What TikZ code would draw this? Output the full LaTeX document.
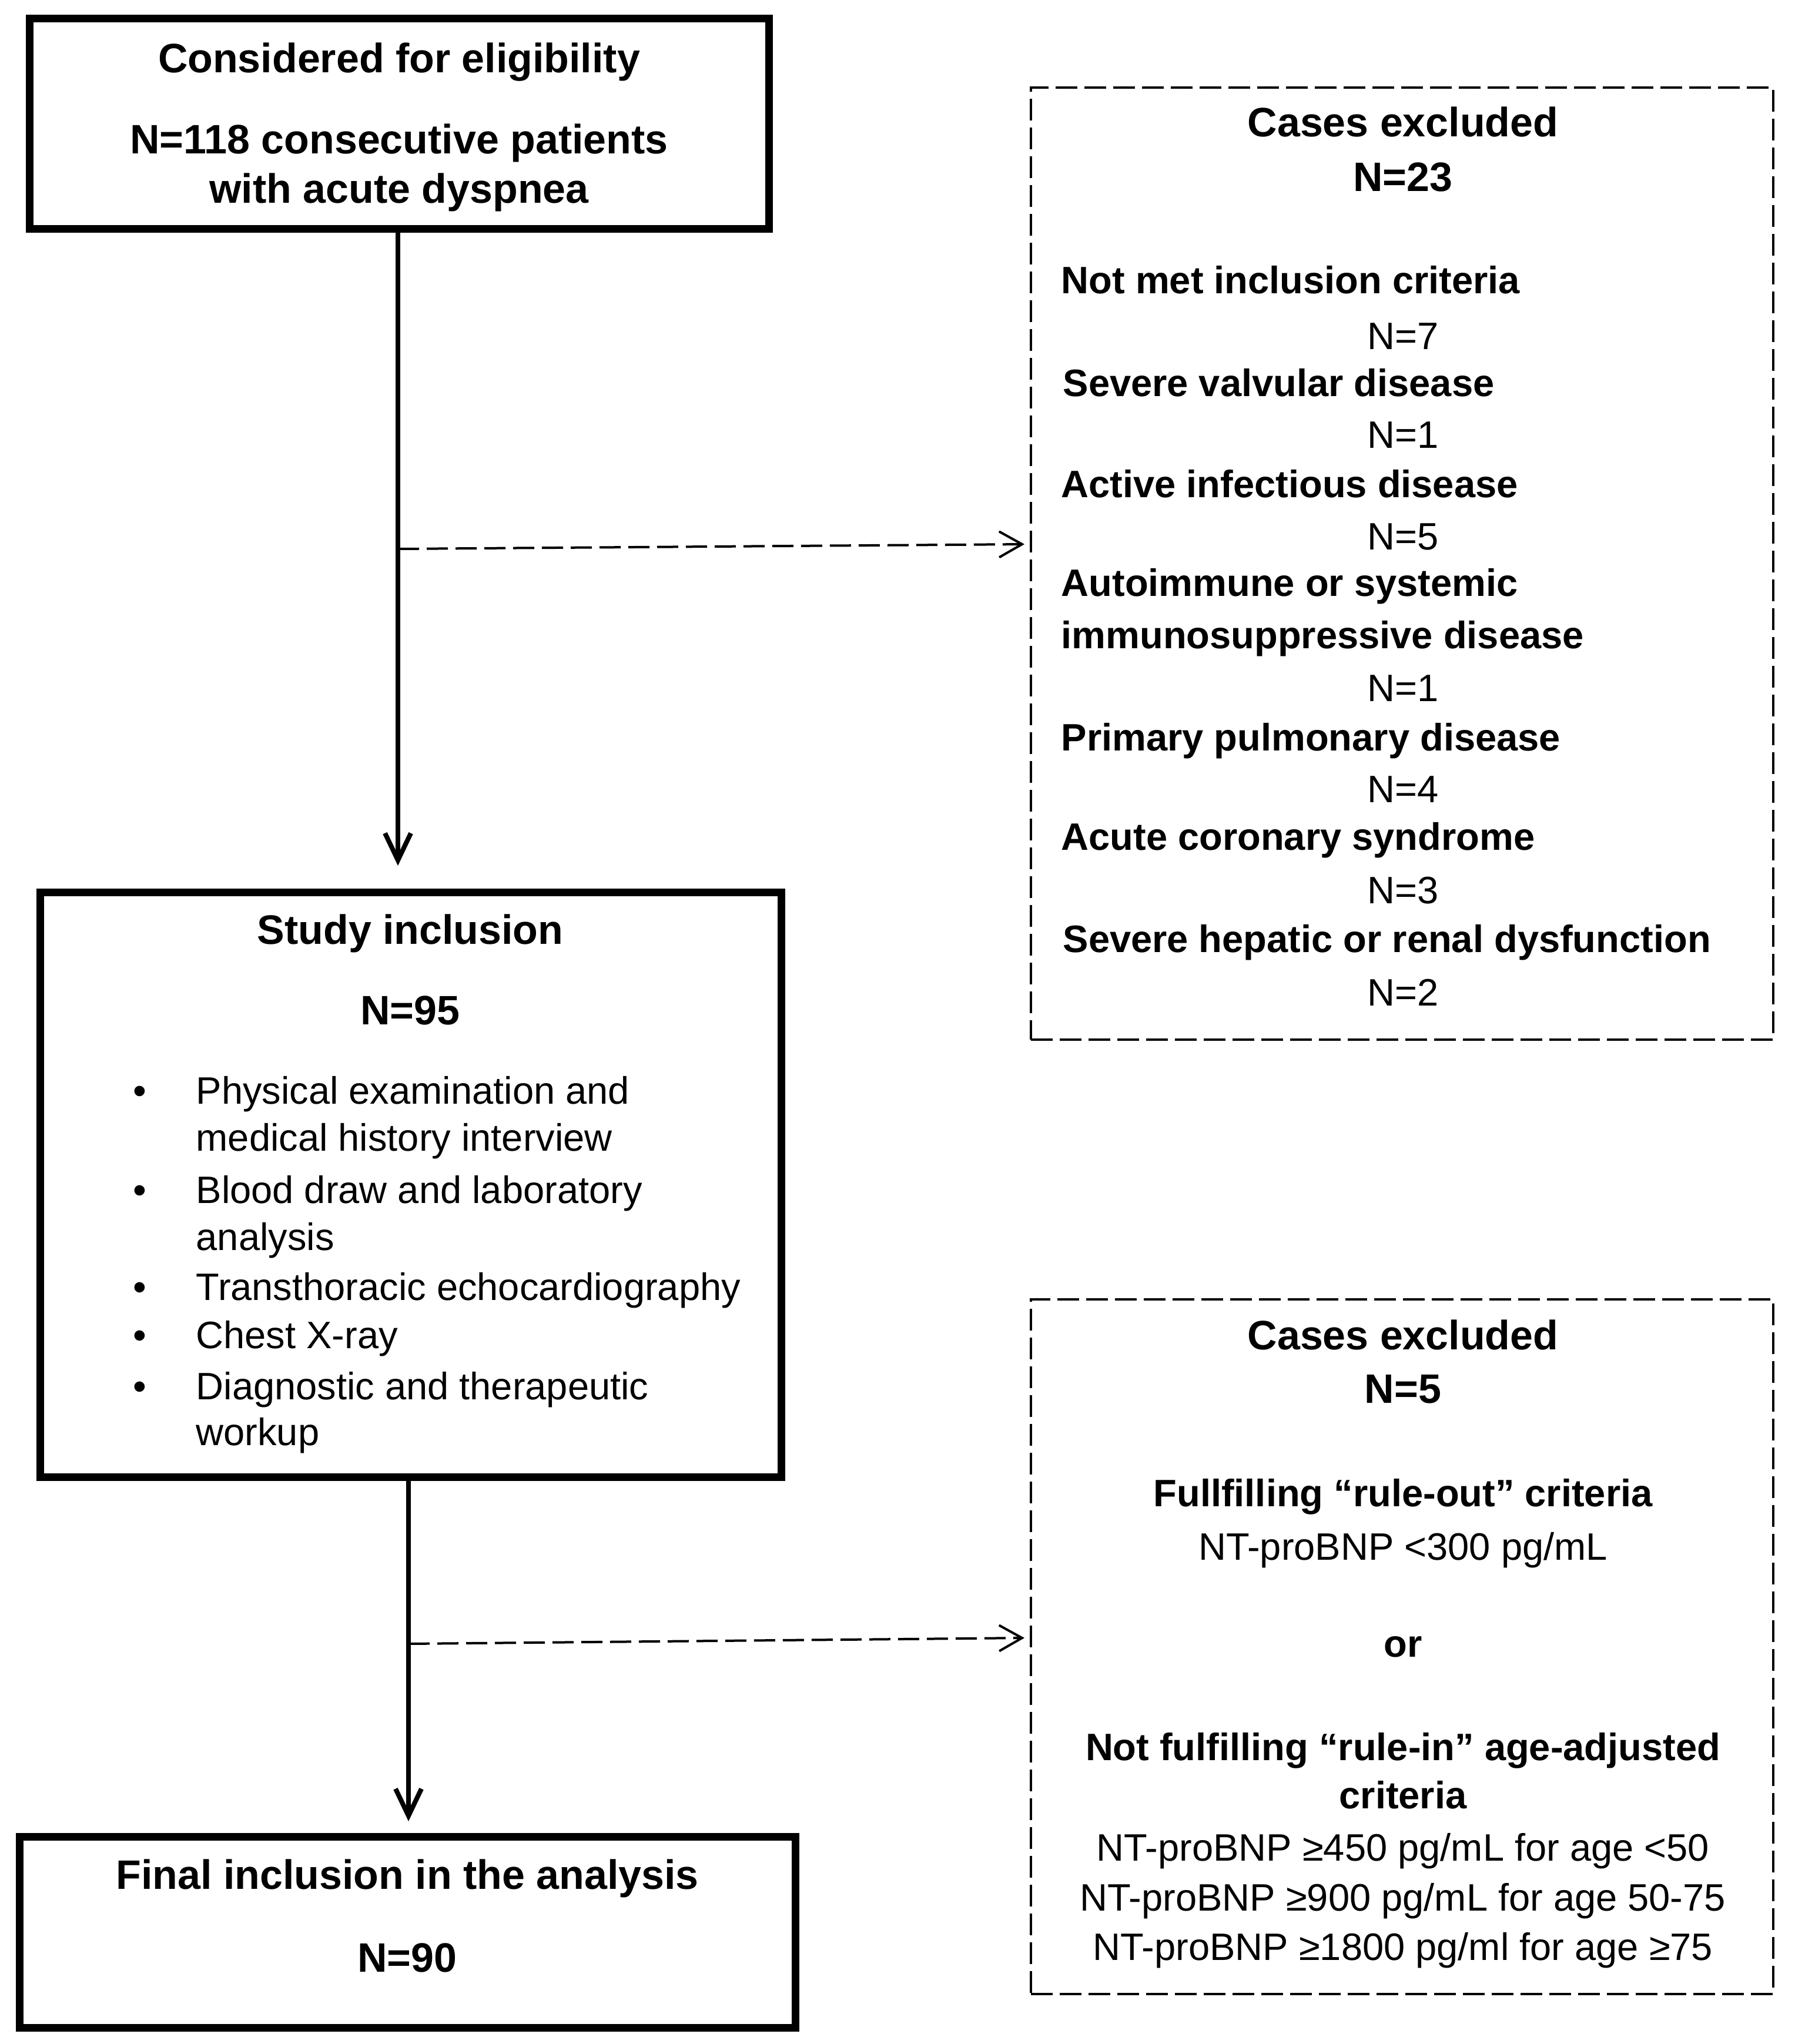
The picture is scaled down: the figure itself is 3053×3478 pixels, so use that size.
\documentclass[tikz,border=0pt]{standalone}
\usepackage{fontspec}
\setmainfont{Liberation Sans}
\usetikzlibrary{arrows.meta}
\begin{document}
\begin{tikzpicture}[x=0.1mm, y=-0.1mm,
  solidbox/.style={draw, line width=1.3mm, inner sep=0pt, outer sep=0pt},
  dashbox/.style={draw, line width=0.4mm, dash pattern=on 3.7mm off 1.2mm, inner sep=0pt, outer sep=0pt},
  headtxt/.style={inner sep=0pt, anchor=base, font=\fontsize{19.9}{24}\selectfont\bfseries},
  boldtxt/.style={inner sep=0pt, anchor=base, font=\fontsize{18.5}{22}\selectfont\bfseries},
  boldleft/.style={boldtxt, anchor=base west},
  regtxt/.style={inner sep=0pt, anchor=base, font=\fontsize{18.5}{22}\selectfont},
  regleft/.style={regtxt, anchor=base west},
  mainarr/.style={line width=0.8mm, -{Straight Barb[length=4.6mm,width=4.4mm]}},
  dasharr/.style={line width=0.4mm, dash pattern=on 3.6mm off 1.3mm, -{Straight Barb[length=3.9mm,width=4.4mm]}}]
\useasboundingbox (0,0) rectangle (3053,3478);

% boxes
\node[solidbox, minimum width=125.8mm, minimum height=35.8mm] (box1) at (679,210) {};
\node[solidbox, minimum width=126.1mm, minimum height=99.5mm] (box2) at (698.5,2015.5) {};
\node[solidbox, minimum width=132mm, minimum height=32.5mm] (box3) at (693,3287.5) {};
\node[dashbox, minimum width=126.3mm, minimum height=162mm] (ex1) at (2385.5,959) {};
\node[dashbox, minimum width=126.3mm, minimum height=118.2mm] (ex2) at (2385.5,2802) {};

% connectors
\coordinate (t1) at (677,1473);
\draw[mainarr] (box1.south -| t1) -- (t1);
\coordinate (t2) at (695,3099);
\draw[mainarr] (box2.south -| t2) -- (t2);
\coordinate (d1s) at (677,934);
\coordinate (d1e) at (1743,926);
\draw[dasharr] (d1s) -- (d1e);
\coordinate (d2s) at (695,2797);
\coordinate (d2e) at (1743,2787);
\draw[dasharr] (d2s) -- (d2e);

% box 1 text
\node[headtxt] (b1a) at (679,123) {Considered for eligibility};
\node[headtxt] (b1b) at (679,261) {N=118 consecutive patients};
\node[headtxt] (b1c) at (679,345) {with acute dyspnea};

% box 2 text
\node[headtxt] (b2a) at (698,1606) {Study inclusion};
\node[headtxt] (b2b) at (698,1743) {N=95};
\node[regtxt] (bu1) at (238,1878) {•};
\node[regtxt] (bu2) at (238,2047) {•};
\node[regtxt] (bu3) at (238,2212) {•};
\node[regtxt] (bu4) at (238,2294) {•};
\node[regtxt] (bu5) at (238,2381) {•};
\node[regleft] (l1) at (333,1878) {Physical examination and};
\node[regleft] (l2) at (333,1958) {medical history interview};
\node[regleft] (l3) at (333,2047) {Blood draw and laboratory};
\node[regleft] (l4) at (333,2127) {analysis};
\node[regleft] (l5) at (333,2212) {Transthoracic echocardiography};
\node[regleft] (l6) at (333,2294) {Chest X-ray};
\node[regleft] (l7) at (333,2381) {Diagnostic and therapeutic};
\node[regleft] (l8) at (333,2459) {workup};

% box 3 text
\node[headtxt] (b3a) at (693,3214) {Final inclusion in the analysis};
\node[headtxt] (b3b) at (693,3355) {N=90};

% excluded box 1 text
\node[headtxt] (e1a) at (2387,232) {Cases excluded};
\node[headtxt] (e1b) at (2387,325) {N=23};
\node[boldleft] (e1c) at (1805,499) {Not met inclusion criteria};
\node[regtxt] (e1d) at (2387,594) {N=7};
\node[boldleft] (e1e) at (1808,674) {Severe valvular disease};
\node[regtxt] (e1f) at (2387,762) {N=1};
\node[boldleft] (e1g) at (1805,846) {Active infectious disease};
\node[regtxt] (e1h) at (2387,935) {N=5};
\node[boldleft] (e1i) at (1805,1014) {Autoimmune or systemic};
\node[boldleft] (e1j) at (1805,1103) {immunosuppressive disease};
\node[regtxt] (e1k) at (2387,1193) {N=1};
\node[boldleft] (e1l) at (1805,1277) {Primary pulmonary disease};
\node[regtxt] (e1m) at (2387,1365) {N=4};
\node[boldleft] (e1n) at (1805,1446) {Acute coronary syndrome};
\node[regtxt] (e1o) at (2387,1537) {N=3};
\node[boldleft] (e1p) at (1808,1620) {Severe hepatic or renal dysfunction};
\node[regtxt] (e1q) at (2387,1711) {N=2};

% excluded box 2 text
\node[headtxt] (e2a) at (2387,2296) {Cases excluded};
\node[headtxt] (e2b) at (2387,2387) {N=5};
\node[boldtxt] (e2c) at (2387,2563) {Fullfilling “rule-out” criteria};
\node[regtxt] (e2d) at (2387,2654) {NT-proBNP <300 pg/mL};
\node[boldtxt] (e2e) at (2387,2819) {or};
\node[boldtxt] (e2f) at (2387,2995) {Not fulfilling “rule-in” age-adjusted};
\node[boldtxt] (e2g) at (2387,3077) {criteria};
\node[regtxt] (e2h) at (2387,3166) {NT-proBNP ≥450 pg/mL for age <50};
\node[regtxt] (e2i) at (2387,3251) {NT-proBNP ≥900 pg/mL for age 50-75};
\node[regtxt] (e2j) at (2387,3335) {NT-proBNP ≥1800 pg/ml for age ≥75};
\end{tikzpicture}
\end{document}
